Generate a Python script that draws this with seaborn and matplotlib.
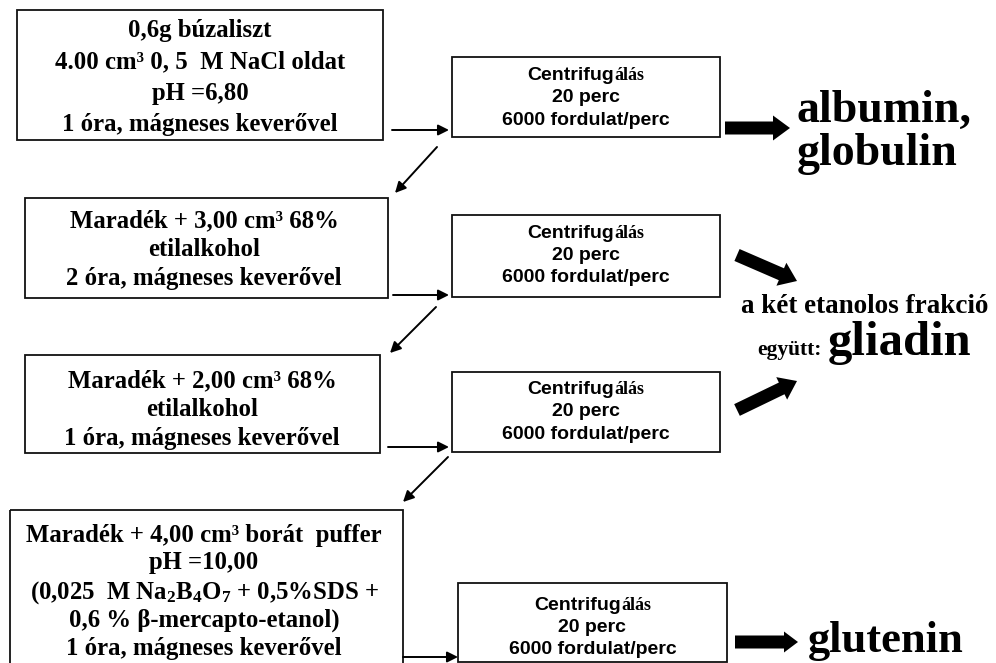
import matplotlib
matplotlib.use("Agg")
import matplotlib.pyplot as plt
import seaborn as sns

sns.set_theme(style="white")
plt.rcParams['font.family'] = ['Liberation Serif', 'DejaVu Serif']
plt.rcParams['text.color'] = 'black'
plt.rcParams['mathtext.fontset'] = 'custom'
plt.rcParams['mathtext.rm'] = 'Liberation Serif:bold'
plt.rcParams['mathtext.default'] = 'rm'

# text of the flow chart
step1 = ["0,6g búzaliszt", "4.00 cm³ 0, 5  M NaCl oldat", "pH =6,80",
         "1 óra, mágneses keverővel"]
step2 = ["Maradék + 3,00 cm³ 68%", "etilalkohol", "2 óra, mágneses keverővel"]
step3 = ["Maradék + 2,00 cm³ 68%", "etilalkohol", "1 óra, mágneses keverővel"]
step4 = ["Maradék + 4,00 cm³ borát  puffer", "pH =10,00",
         r"(0,025  M Na$_2$B$_4$O$_7$ + 0,5%SDS +", "0,6 % β-mercapto-etanol)",
         "1 óra, mágneses keverővel"]
centri = [("Centrifug", "álás"), "20 perc", "6000 fordulat/perc"]
prod1 = ["albumin,", "globulin"]
prod2 = ["a két etanolos frakció", "együtt:", "gliadin"]
prod3 = "glutenin"

fig = plt.figure(figsize=(9.96, 6.63), dpi=100)
ax = fig.add_axes([0, 0, 1, 1])
ax.set_xlim(0, 996)
ax.set_ylim(663, 0)
ax.axis('off')
r = fig.canvas.get_renderer()

SANS = 'Liberation Sans'
SERIF = 'Liberation Serif'


def box(x0, y0, x1, y1):
    ax.add_patch(plt.Rectangle((x0, y0), x1 - x0, y1 - y0, fill=False,
                               ec='#111111', lw=1.3))


def thin_arrow(x0, y0, x1, y1):
    ax.annotate("", xy=(x1, y1), xytext=(x0, y0),
                arrowprops=dict(arrowstyle='-|>', color='black', lw=1.4,
                                mutation_scale=16, shrinkA=0, shrinkB=0))


def fat_arrow(x0, y0, x1, y1, w=13, hw=25, hl=17):
    ax.arrow(x0, y0, x1 - x0, y1 - y0, width=w, head_width=hw, head_length=hl,
             length_includes_head=True, color='black', lw=0)


def lines(texts, cx, baselines, size=17.8):
    for t, yb in zip(texts, baselines):
        ax.text(cx, yb, t, ha='center', va='baseline', fontsize=size,
                fontweight='bold', family=SERIF)


def centrifuge(x0, y0, x1, y1, baselines, size=14):
    box(x0, y0, x1, y1)
    cx = (x0 + x1) / 2
    a, b = centri[0]
    ta = ax.text(0, baselines[0], a, ha='left', va='baseline', fontsize=size,
                 fontweight='bold', family=SANS)
    tb = ax.text(0, baselines[0], b, ha='left', va='baseline', fontsize=size - 1,
                 fontweight='bold', family=SERIF)
    wa = ta.get_window_extent(r).width
    wb = tb.get_window_extent(r).width
    left = cx - (wa + wb) / 2
    ta.set_x(left)
    tb.set_x(left + wa)
    for t, yb in zip(centri[1:], baselines[1:]):
        ax.text(cx, yb, t, ha='center', va='baseline', fontsize=size,
                fontweight='bold', family=SANS)


# left column
box(17, 10, 383, 140)
lines(step1, 200, [37, 68, 100, 131])
box(25, 198, 388, 298)
lines(step2, 204, [227, 256, 285])
box(25, 355, 380, 453)
lines(step3, 202, [387, 416, 445])
box(10, 510, 403, 680)
lines(step4, 204, [542, 569, 599, 627, 655])

# centrifuge column
centrifuge(452, 57, 720, 137, [80, 102.5, 125])
centrifuge(452, 215, 720, 297, [238, 260, 282])
centrifuge(452, 372, 720, 452, [394, 416, 439])
centrifuge(458, 583, 727, 662, [610, 632, 654])

# thin arrows
thin_arrow(392, 130, 449, 130)
thin_arrow(393, 295, 449, 295)
thin_arrow(388, 447, 449, 447)
thin_arrow(403, 657, 458, 657)
thin_arrow(437, 147, 395, 193)
thin_arrow(436, 307, 390, 353)
thin_arrow(448, 457, 403, 502)

# fat arrows
fat_arrow(725, 128, 790, 128)
fat_arrow(737, 255, 797, 281)
fat_arrow(737, 410, 797, 381)
fat_arrow(735, 642, 798, 642, w=13, hw=21, hl=14)

# products
ax.text(797, 122, prod1[0], ha='left', va='baseline', fontsize=33,
        fontweight='bold', family=SERIF)
ax.text(797, 165, prod1[1], ha='left', va='baseline', fontsize=33,
        fontweight='bold', family=SERIF)
ax.text(865, 313, prod2[0], ha='center', va='baseline', fontsize=19.5,
        fontweight='bold', family=SERIF)
t1 = ax.text(757, 355, prod2[1], ha='left', va='baseline', fontsize=15.5,
             fontweight='bold', family=SERIF)
w1 = t1.get_window_extent(r).width
ax.text(757 + w1 + 6, 355, prod2[2], ha='left', va='baseline', fontsize=35,
        fontweight='bold', family=SERIF)
ax.text(808, 652, prod3, ha='left', va='baseline', fontsize=32,
        fontweight='bold', family=SERIF)

fig.savefig("out.png", dpi=100, facecolor='white')
